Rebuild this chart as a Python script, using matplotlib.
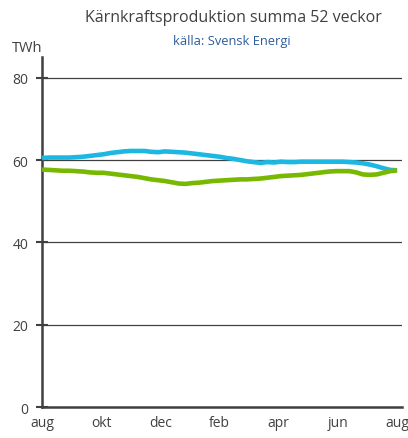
import numpy as np
import matplotlib
matplotlib.use('Agg')
import matplotlib.pyplot as plt

plt.rcParams['font.family'] = ['Open Sans', 'DejaVu Sans']

# weekly values, TWh summed over 52 weeks
blue = [60.5,60.6,60.6,60.6,60.6,
        60.7,60.8,61.0,61.2,61.4,
        61.7,61.9,62.1,62.2,62.2,
        62.2,62.0,61.9,62.1,62.0,
        61.9,61.8,61.6,61.4,61.2,
        61.0,60.8,60.5,60.3,60.0,
        59.7,59.5,59.3,59.5,59.4,
        59.6,59.5,59.5,59.6,59.6,
        59.6,59.6,59.6,59.6,59.6,
        59.5,59.4,59.2,58.9,58.5,
        58.0,57.6,57.5]
green = [57.7,57.6,57.5,57.4,57.4,
         57.3,57.2,57.0,56.9,56.9,
         56.7,56.5,56.3,56.1,55.9,
         55.6,55.3,55.1,54.9,54.6,
         54.3,54.2,54.4,54.5,54.7,
         54.9,55.0,55.1,55.2,55.3,
         55.3,55.4,55.5,55.7,55.9,
         56.1,56.2,56.3,56.4,56.6,
         56.8,57.0,57.2,57.3,57.3,
         57.3,57.0,56.5,56.4,56.5,
         56.9,57.3,57.5]
months = ['aug', 'okt', 'dec', 'feb', 'apr', 'jun', 'aug']
yticks = [0, 20, 40, 60, 80]

weeks = np.arange(len(blue))

fig = plt.figure(figsize=(4.08, 4.39), dpi=100)
ax = fig.add_axes([0.103, 0.0706, 0.882, 0.797])

for y in yticks[1:]:
    ax.axhline(y, color='#404040', lw=0.9, zorder=1)

ax.plot(weeks, blue, color='#1cb8e2', lw=3.3, solid_capstyle='butt', zorder=3)
ax.plot(weeks, green, color='#78b800', lw=3.3, solid_capstyle='butt', zorder=3)

ax.set_xlim(0, 52.7)
ax.set_ylim(0, 85)
ax.set_yticks(yticks)
ax.set_xticks(np.linspace(0, 52, len(months)))
ax.set_xticklabels(months)
ax.tick_params(axis='y', direction='inout', length=8, width=1.5, color='#404040',
               labelsize=10, labelcolor='#404040', pad=6)
ax.tick_params(axis='x', length=0, labelsize=10, labelcolor='#404040', pad=6)

for s in ['top', 'right']:
    ax.spines[s].set_visible(False)
for s in ['left', 'bottom']:
    ax.spines[s].set_color('#404040')
    ax.spines[s].set_linewidth(1.8)

fig.text(233/408, 1 - 18/439, 'Kärnkraftsproduktion summa 52 veckor',
         ha='center', va='center', fontsize=11.5, color='#404040')
fig.text(232/408, 1 - 42/439, 'källa: Svensk Energi',
         ha='center', va='center', fontsize=9.3, color='#2e5c9a')
fig.text(27/408, 1 - 48/439, 'TWh', ha='center', va='center',
         fontsize=10.5, color='#404040')

fig.savefig('out.png', dpi=100)
